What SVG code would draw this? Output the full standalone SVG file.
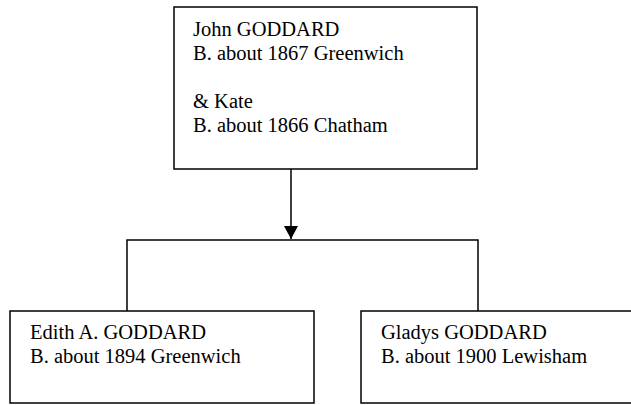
<svg xmlns="http://www.w3.org/2000/svg" width="631" height="405" viewBox="0 0 631 405">
<defs>
<style>
.box{fill:#fff;stroke:#000;stroke-width:1.5}
.ln{fill:none;stroke:#000;stroke-width:1.5}
text{font-family:"Liberation Serif","Times New Roman",serif;font-size:20.5px;fill:#000}
</style>
<marker id="arr" markerWidth="14" markerHeight="14" refX="13" refY="7" orient="auto" markerUnits="userSpaceOnUse">
<path d="M0,0 L13,7 L0,14 Z" fill="#000"/>
</marker>
</defs>
<rect width="631" height="405" fill="#fff"/>
<g id="connectors">
<line class="ln" x1="291" y1="169" x2="291" y2="239" marker-end="url(#arr)"/>
<polyline class="ln" points="127,311 127,240 478,240 478,311"/>
</g>
<g id="parents">
<rect class="box" x="174" y="7" width="303" height="162"/>
<text x="193" y="36">John GODDARD</text>
<text x="193" y="60">B. about 1867 Greenwich</text>
<text x="193" y="108">&amp; Kate</text>
<text x="193" y="132">B. about 1866 Chatham</text>
</g>
<g id="edith">
<rect class="box" x="10" y="311" width="304" height="92"/>
<text x="30" y="339">Edith A. GODDARD</text>
<text x="30" y="363">B. about 1894 Greenwich</text>
</g>
<g id="gladys">
<rect class="box" x="361" y="311" width="290" height="92"/>
<text x="381" y="339">Gladys GODDARD</text>
<text x="381" y="363">B. about 1900 Lewisham</text>
</g>
</svg>
